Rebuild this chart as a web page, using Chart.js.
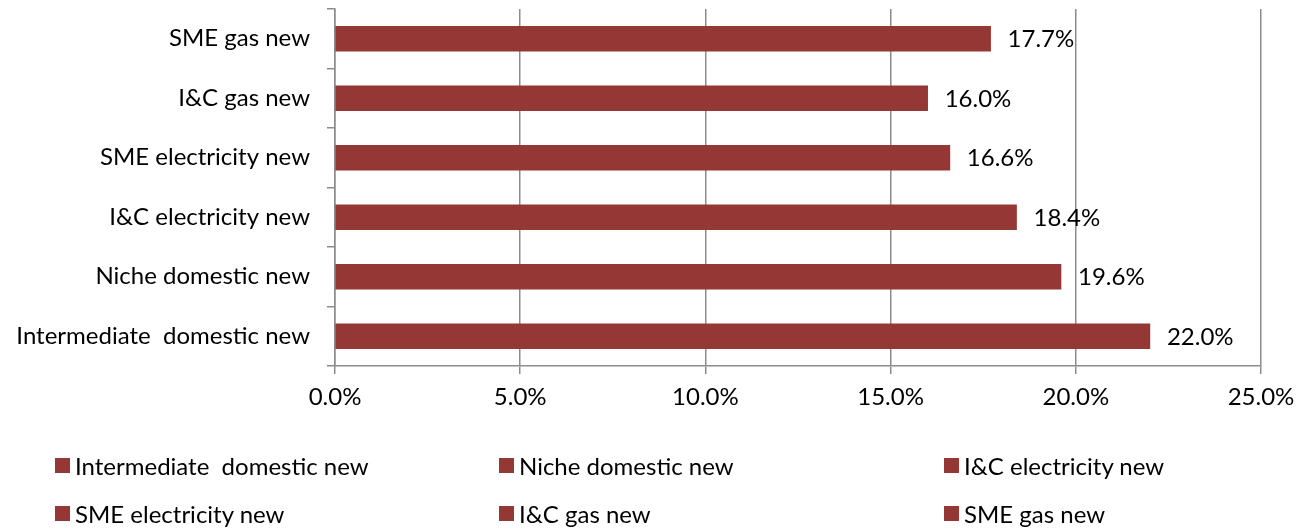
<!DOCTYPE html>
<html lang="en">
<head>
    <meta charset="UTF-8">
    <title>New entrant margins</title>
    <style>
        body { margin: 0; background: #fff; font-family: Lato, sans-serif; }
        #wrap { position: relative; width: 1309px; height: 529px; }
        #legend { position: absolute; left: 0; top: 0; }
        .item { position: absolute; display: flex; align-items: center; font-size: 24px; color: #000; white-space: pre; }
        .box { width: 15px; height: 15px; background: #953735; margin-right: 5px; }
    </style>
</head>
<body>
<div id="wrap">
    <canvas id="chart" width="1309" height="529"></canvas>
    <div id="legend"></div>
</div>
<script src="https://cdn.jsdelivr.net/npm/chart.js"></script>
<script>
    // bottom-to-top order, same as the legend
    const categories = ['Intermediate  domestic new', 'Niche domestic new', 'I&C electricity new',
                        'SME electricity new', 'I&C gas new', 'SME gas new'];
    const margins = [22.0, 19.6, 18.4, 16.6, 16.0, 17.7];
    const xTicks = [0, 5, 10, 15, 20, 25];

    const barColor = '#953735';
    const gridColor = '#8c8c8c';

    const valueLabels = {
        id: 'valueLabels',
        afterDatasetsDraw(chart) {
            const ctx = chart.ctx;
            ctx.save();
            ctx.font = '24px Lato';
            ctx.fillStyle = '#000';
            ctx.textAlign = 'left';
            ctx.textBaseline = 'middle';
            chart.getDatasetMeta(0).data.forEach((bar, i) => {
                ctx.fillText(margins[i].toFixed(1) + '%', bar.x + 17, bar.y + 1);
            });
            ctx.restore();
        }
    };

    new Chart(document.getElementById('chart'), {
        type: 'bar',
        data: {
            labels: categories,
            datasets: [{ data: margins, backgroundColor: barColor, barThickness: 25 }]
        },
        plugins: [valueLabels],
        options: {
            indexAxis: 'y',
            responsive: false,
            animation: false,
            layout: { padding: { top: 9, right: 48, bottom: 113, left: 0 } },
            plugins: { legend: { display: false }, tooltip: { enabled: false } },
            scales: {
                x: {
                    min: 0, max: 25,
                    afterBuildTicks: (s) => { s.ticks = xTicks.map(v => ({ value: v })); },
                    afterFit: (s) => { s.height = 50; },
                    grid: { color: gridColor, lineWidth: 1.5, tickLength: 8 },
                    border: { color: gridColor, width: 1.5 },
                    ticks: {
                        color: '#000', padding: 9, font: { family: 'Lato', size: 24 },
                        maxRotation: 0,
                        callback: (v) => Number(v).toFixed(1) + '%'
                    }
                },
                y: {
                    reverse: true,
                    afterFit: (s) => { s.width = 335; s.paddingTop = 0; s.paddingBottom = 0; },
                    grid: { drawOnChartArea: false, color: gridColor, lineWidth: 1.5, tickLength: 8, offset: true },
                    border: { color: gridColor, width: 1.5 },
                    ticks: { color: '#000', padding: 17, font: { family: 'Lato', size: 24 } }
                }
            }
        }
    });

    // legend in three fixed columns, two rows
    const colX = [55, 499, 944];
    const rowY = [465, 513];
    const legend = document.getElementById('legend');
    categories.forEach((name, i) => {
        const el = document.createElement('div');
        el.className = 'item';
        el.style.left = colX[i % 3] + 'px';
        el.style.top = (rowY[Math.floor(i / 3)] - 15) + 'px';
        el.style.height = '30px';
        el.innerHTML = '<span class="box"></span>';
        el.appendChild(document.createTextNode(name));
        legend.appendChild(el);
    });
</script>
</body>
</html>
